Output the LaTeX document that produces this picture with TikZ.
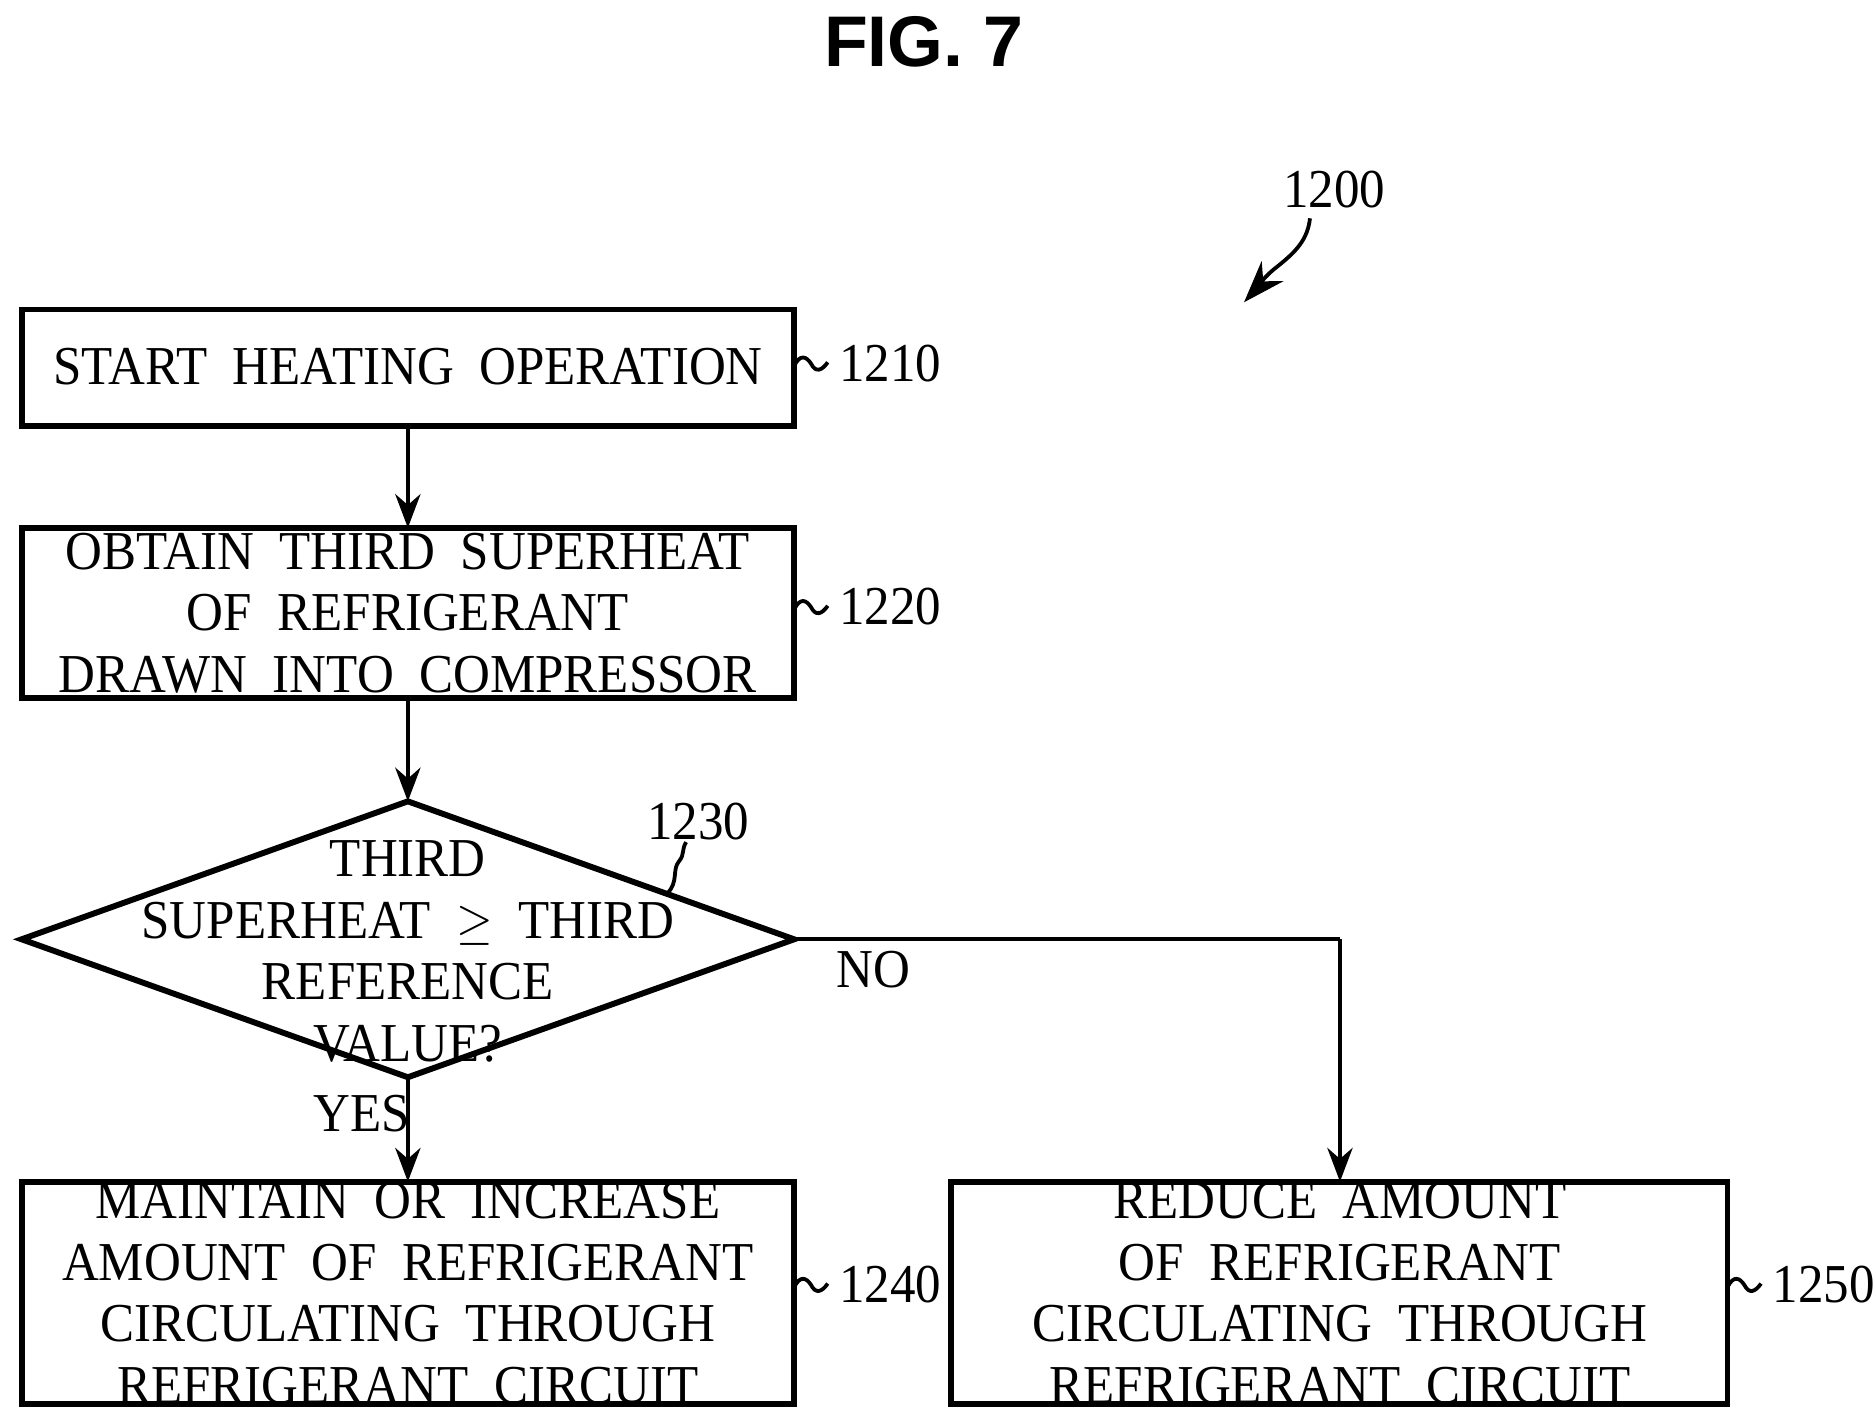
\documentclass[tikz,border=0pt]{standalone}
\usepackage{fontspec}
\setmainfont{Liberation Serif}
\setsansfont{Liberation Sans}
\usetikzlibrary{arrows.meta}
\begin{document}
\begin{tikzpicture}[x=0.01cm,y=-0.01cm,
  box/.style={draw,line width=1.4pt,inner sep=0pt},
  txt/.style={align=center,font=\fontsize{13}{14.6}\selectfont,xscale=0.93},
  lab/.style={font=\fontsize{13}{15}\selectfont,xscale=0.93,anchor=west},
  arr/.style={line width=0.9pt,-{Stealth[length=8pt,width=6pt]}},
  ln/.style={line width=0.9pt}]
\useasboundingbox (0,0) rectangle (1563,1185);
\node[font=\sffamily\bfseries\fontsize{17}{20}\selectfont] (fig) at (770,35) {FIG. 7};
\draw[box] (18,258) rectangle (662,355);
\node[txt] (b1) at (340,306) {START\ \ HEATING\ \ OPERATION};
\coordinate (b1t) at (340,258); \coordinate (b1b) at (340,355);
\draw[box] (18,440) rectangle (662,582);
\node[txt] (b2) at (340,511) {OBTAIN\ \ THIRD\ \ SUPERHEAT\\OF\ \ REFRIGERANT\\DRAWN\ \ INTO\ \ COMPRESSOR};
\coordinate (b2t) at (340,440); \coordinate (b2b) at (340,582);
\draw[box] (18,783) -- (340,668) -- (662,783) -- (340,898) -- cycle;
\node[txt] (d) at (340,793) {THIRD\\SUPERHEAT\ \ $\geq$\ \ THIRD\\REFERENCE\\VALUE?};
\coordinate (dt) at (340,668); \coordinate (db) at (340,898); \coordinate (dr) at (662,783);
\draw[box] (18,985) rectangle (662,1170);
\node[txt] (b4) at (340,1078) {MAINTAIN\ \ OR\ \ INCREASE\\AMOUNT\ \ OF\ \ REFRIGERANT\\CIRCULATING\ \ THROUGH\\REFRIGERANT\ \ CIRCUIT};
\coordinate (b4t) at (340,985);
\draw[box] (793,985) rectangle (1440,1170);
\node[txt] (b5) at (1117,1078) {REDUCE\ \ AMOUNT\\OF\ \ REFRIGERANT\\CIRCULATING\ \ THROUGH\\REFRIGERANT\ \ CIRCUIT};
\coordinate (b5t) at (1117,985); \coordinate (c) at (1117,783);
\draw[arr] (b1b) -- (b2t);
\draw[arr] (b2b) -- (dt);
\draw[arr] (db) -- (b4t);
\draw[ln] (dr) -- (c); \draw[arr] (c) -- (b5t);
\node[lab] (yes) at (250,928) {YES};
\node[lab] (no) at (686,808) {NO};
\foreach \x/\y/\t in {662/305/1210, 662/508/1220, 662/1073/1240, 1440/1073/1250}{
  \draw[ln] (\x,\y) .. controls (\x+5,\y-10) and (\x+10,\y-8) .. (\x+14,\y-2) .. controls (\x+18,\y+6) and (\x+23,\y+4) .. (\x+28,\y-3);
  \node[lab] at (\x+26,\y-2) {\t};}
\node[lab] (n1230) at (528,685) {1230};
\draw[ln] (556,745) .. controls (566,735) and (560,725) .. (566,718) .. controls (571,712) and (568,708) .. (572,702);
\node[lab] (n1200) at (1058,158) {1200};
\draw[ln,-{Stealth[length=10pt,width=7pt]}] (1092,182) .. controls (1090,200) and (1080,210) .. (1065,222) .. controls (1052,232) and (1048,240) .. (1037,252);
\end{tikzpicture}
\end{document}
